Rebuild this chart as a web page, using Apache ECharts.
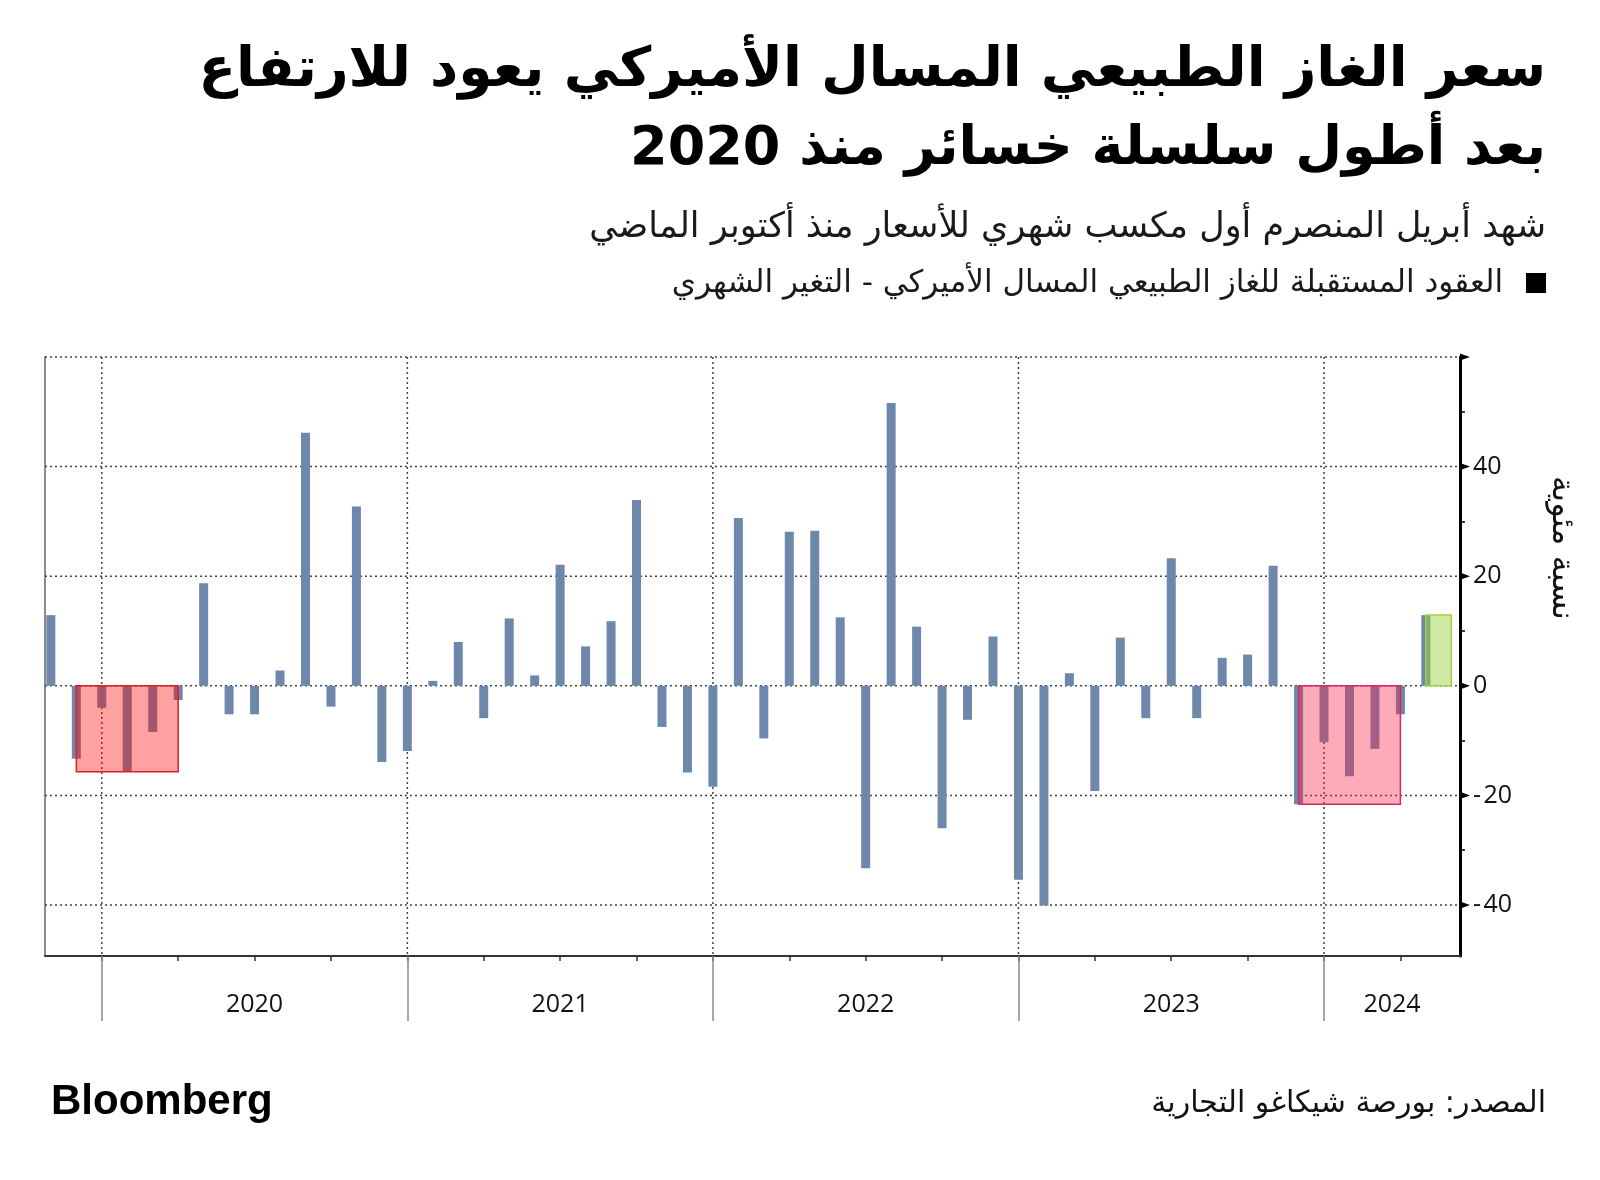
<!DOCTYPE html>
<html>
<head>
<meta charset="utf-8">
<title>US natural gas monthly change</title>
<script src="https://cdn.jsdelivr.net/npm/echarts@6.0.0/dist/echarts.min.js"></script>
<style>
  html, body { margin: 0; padding: 0; background: #ffffff; }
  #chart { width: 1600px; height: 1180px; }
</style>
</head>
<body>
<div id="chart"></div>
<script>
// ---------------- data ----------------
const months = [
  '2019-10','2019-11','2019-12',
  '2020-01','2020-02','2020-03','2020-04','2020-05','2020-06','2020-07','2020-08','2020-09','2020-10','2020-11','2020-12',
  '2021-01','2021-02','2021-03','2021-04','2021-05','2021-06','2021-07','2021-08','2021-09','2021-10','2021-11','2021-12',
  '2022-01','2022-02','2022-03','2022-04','2022-05','2022-06','2022-07','2022-08','2022-09','2022-10','2022-11','2022-12',
  '2023-01','2023-02','2023-03','2023-04','2023-05','2023-06','2023-07','2023-08','2023-09','2023-10','2023-11','2023-12',
  '2024-01','2024-02','2024-03','2024-04'
];
const monthlyChange = [
  12.9, -13.3, -4.0,
  -15.7, -8.4, -2.6, 18.7, -5.2, -5.2, 2.8, 46.2, -3.8, 32.7, -13.9, -11.9,
  0.9, 8.0, -5.9, 12.3, 1.9, 22.1, 7.2, 11.8, 33.9, -7.5, -15.8, -18.4,
  30.6, -9.6, 28.1, 28.3, 12.5, -33.3, 51.6, 10.8, -26.0, -6.2, 9.0, -35.4,
  -40.1, 2.3, -19.2, 8.8, -5.9, 23.3, -5.9, 5.1, 5.7, 21.9, -21.6, -10.3,
  -16.5, -11.5, -5.2, 12.9
];
const lossStreaks = [['2019-11', '2020-03'], ['2023-11', '2024-03']];
const gainHighlight = ['2024-04'];
const yearLabels = ['2020', '2021', '2022', '2023', '2024'];
const yLabelValues = [-40, -20, 0, 20, 40];
const yGridValues = [60, 40, 20, 0, -20, -40];
const yMinorTicks = [-30, -10, 10, 30, 50];

const titleLine1 = 'سعر الغاز الطبيعي المسال الأميركي يعود للارتفاع';
const titleLine2 = 'بعد أطول سلسلة خسائر منذ 2020';
const subtitle = 'شهد أبريل المنصرم أول مكسب شهري للأسعار منذ أكتوبر الماضي';
const legendText = 'العقود المستقبلة للغاز الطبيعي المسال الأميركي - التغير الشهري';
const axisName = 'نسبة مئوية';
const sourceText = 'المصدر: بورصة شيكاغو التجارية';
const brand = 'Bloomberg';

// ---------------- helpers ----------------
// month-end position, in months since 1 Jan 2020
const toM = s => { const p = s.split('-').map(Number); return (p[0] - 2020) * 12 + p[1]; };
const X_MIN = -2.23, X_MAX = 53.34, Y_MIN = -49.3, Y_MAX = 60;
const barData = months.map((m, i) => [toM(m), monthlyChange[i]]);
const yearStarts = yearLabels.map((y, i) => i * 12);
const quarterTicks = [];
for (let q = 0; q <= X_MAX; q += 3) quarterTicks.push(q);
const yearLabelPos = yearLabels.map((y, i) => {
  const a = Math.max(i * 12, X_MIN), b = Math.min(i * 12 + 12, X_MAX);
  return (a + b) / 2;
});

const highlightData = [];
lossStreaks.forEach((s, k) => {
  const i0 = months.indexOf(s[0]), i1 = months.indexOf(s[1]);
  const low = Math.min.apply(null, monthlyChange.slice(i0, i1 + 1));
  highlightData.push([toM(s[0]), toM(s[1]), low, k]);
});
gainHighlight.forEach(m => {
  const i = months.indexOf(m);
  highlightData.push([toM(m), toM(m) + 1, monthlyChange[i], 2]);
});
const highlightStyles = [
  { fill: 'rgba(255,0,0,0.37)', stroke: '#de1f26' },
  { fill: 'rgba(255,25,65,0.37)', stroke: '#d72a5a' },
  { fill: 'rgba(150,210,60,0.48)', stroke: '#a2d13e' }
];

const gridData = yGridValues.map(v => [0, v]).concat(yearStarts.map(v => [1, v]));

const AR_FONT = '"DejaVu Sans", "Noto Sans", sans-serif';
const NUM_FONT = '"Open Sans", "Noto Sans", sans-serif';

const chart = echarts.init(document.getElementById('chart'), null, { renderer: 'canvas', width: 1600, height: 1180 });

const option = {
  backgroundColor: '#ffffff',
  animation: false,
  grid: { left: 45, right: 140, top: 357, bottom: 224 },
  xAxis: [
    {
      type: 'value', min: X_MIN, max: X_MAX, position: 'bottom',
      axisLine: { show: true, onZero: false, lineStyle: { color: '#333', width: 2 } },
      axisTick: { show: true, customValues: quarterTicks, length: 5, lineStyle: { color: '#333', width: 1.5 } },
      axisLabel: {
        show: true, customValues: yearLabelPos, margin: 36,
        formatter: v => yearLabels[Math.floor(v / 12)],
        fontSize: 25, color: '#111', fontFamily: NUM_FONT
      },
      splitLine: { show: false }
    },
    {
      type: 'value', min: X_MIN, max: X_MAX, position: 'bottom',
      axisLine: { show: false, onZero: false },
      axisTick: { show: true, customValues: yearStarts, length: 65, lineStyle: { color: '#8a8a8a', width: 1.5 } },
      axisLabel: { show: false },
      splitLine: { show: false }
    }
  ],
  yAxis: [
    {
      type: 'value', position: 'right', min: Y_MIN, max: Y_MAX,
      axisLine: { show: true, onZero: false, lineStyle: { color: '#000', width: 3 } },
      axisTick: { show: true, customValues: yMinorTicks, length: 5, lineStyle: { color: '#000', width: 1.5 } },
      axisLabel: {
        show: true, customValues: yLabelValues, margin: 13,
        formatter: v => (v < 0 ? '-\u200a' + Math.abs(v) : String(v)),
        fontSize: 25, color: '#111', fontFamily: NUM_FONT
      },
      splitLine: { show: false }
    },
    {
      type: 'value', position: 'left', min: Y_MIN, max: Y_MAX,
      axisLine: { show: true, onZero: false, lineStyle: { color: '#8a8a8a', width: 2 } },
      axisTick: { show: false }, axisLabel: { show: false }, splitLine: { show: false }
    }
  ],
  series: [
    {
      name: 'grid', type: 'custom', xAxisIndex: 0, yAxisIndex: 0, z: 1, silent: true,
      data: gridData,
      renderItem: (params, api) => {
        const kind = api.value(0), v = api.value(1);
        const p0 = kind === 0 ? api.coord([X_MIN, v]) : api.coord([v, Y_MAX]);
        const p1 = kind === 0 ? api.coord([X_MAX, v]) : api.coord([v, Y_MIN]);
        return {
          type: 'line',
          shape: { x1: p0[0], y1: p0[1], x2: p1[0], y2: p1[1] },
          style: { stroke: '#444', lineWidth: 1.5, lineDash: [2, 3] }
        };
      }
    },
    {
      name: legendText, type: 'bar', xAxisIndex: 0, yAxisIndex: 0, z: 2,
      data: barData, barWidth: 9,
      itemStyle: { color: '#6e88ab' }
    },
    {
      name: 'highlights', type: 'custom', xAxisIndex: 0, yAxisIndex: 0, z: 3, silent: true,
      data: highlightData,
      renderItem: (params, api) => {
        const p0 = api.coord([api.value(0), 0]);
        const p1 = api.coord([api.value(1), api.value(2)]);
        const st = highlightStyles[api.value(3)];
        return {
          type: 'rect',
          shape: {
            x: Math.min(p0[0], p1[0]), y: Math.min(p0[1], p1[1]),
            width: Math.abs(p1[0] - p0[0]), height: Math.abs(p1[1] - p0[1])
          },
          style: { fill: st.fill, stroke: st.stroke, lineWidth: 1.5 }
        };
      }
    },
    {
      name: 'majorTicks', type: 'custom', xAxisIndex: 0, yAxisIndex: 0, z: 4, silent: true,
      data: yGridValues.map(v => [v]),
      renderItem: (params, api) => {
        const p = api.coord([X_MAX, api.value(0)]);
        return {
          type: 'polygon',
          shape: { points: [[p[0], p[1] - 3.6], [p[0] + 10, p[1]], [p[0], p[1] + 3.6]] },
          style: { fill: '#000' }
        };
      }
    }
  ],
  graphic: [
    { type: 'text', x: 1546, y: 72, style: { text: titleLine1, font: 'bold 55px ' + AR_FONT, fill: '#000', align: 'right', textAlign: 'right', verticalAlign: 'middle', textVerticalAlign: 'middle' } },
    { type: 'text', x: 1546, y: 150, style: { text: titleLine2, font: 'bold 54px ' + AR_FONT, fill: '#000', align: 'right', textAlign: 'right', verticalAlign: 'middle', textVerticalAlign: 'middle' } },
    { type: 'text', x: 1546, y: 228, style: { text: subtitle, font: '35px ' + AR_FONT, fill: '#1a1a1a', align: 'right', textAlign: 'right', verticalAlign: 'middle', textVerticalAlign: 'middle' } },
    { type: 'rect', shape: { x: 1526, y: 273, width: 20, height: 20 }, style: { fill: '#000' } },
    { type: 'text', x: 1503, y: 284, style: { text: legendText, font: '31px ' + AR_FONT, fill: '#1a1a1a', align: 'right', textAlign: 'right', verticalAlign: 'middle', textVerticalAlign: 'middle' } },
    { type: 'text', x: 1561, y: 548, rotation: -Math.PI / 2, style: { text: axisName, font: '32px ' + AR_FONT, fill: '#111', align: 'center', textAlign: 'center', verticalAlign: 'middle', textVerticalAlign: 'middle' } },
    { type: 'text', x: 51, y: 1102, style: { text: brand, font: 'bold 42px "Liberation Sans", Arial, sans-serif', fill: '#000', align: 'left', textAlign: 'left', verticalAlign: 'middle', textVerticalAlign: 'middle' } },
    { type: 'text', x: 1546, y: 1104, style: { text: sourceText, font: '30px ' + AR_FONT, fill: '#111', align: 'right', textAlign: 'right', verticalAlign: 'middle', textVerticalAlign: 'middle' } }
  ]
};
chart.setOption(option);
</script>
</body>
</html>
